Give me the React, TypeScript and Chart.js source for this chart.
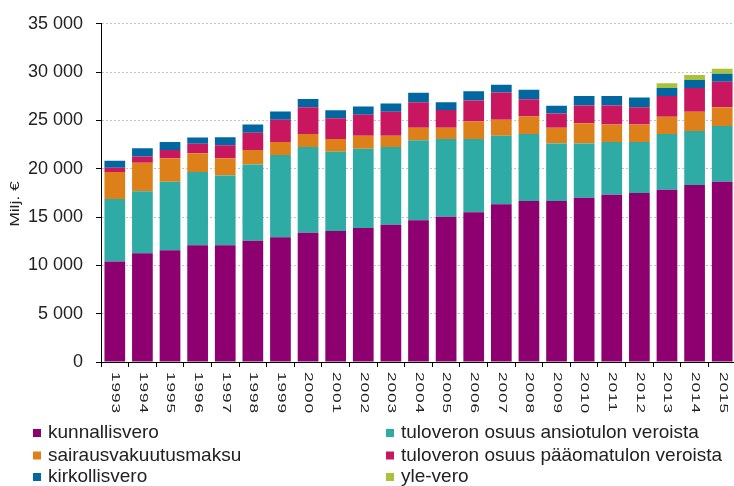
import React, { useEffect, useRef } from "react";
import { Chart, registerables } from "chart.js";

Chart.register(...registerables);

const years = [
  "1993", "1994", "1995", "1996", "1997", "1998", "1999", "2000", "2001", "2002", "2003", "2004",
  "2005", "2006", "2007", "2008", "2009", "2010", "2011", "2012", "2013", "2014", "2015",
];

const kunnallisvero = [
  10400, 11260, 11560, 12080, 12080, 12560, 12900, 13380, 13550, 13860, 14200, 14680,
  15030, 15500, 16330, 16670, 16670, 17010, 17320, 17490, 17830, 18310, 18660,
];
const ansiotulonVeroista = [
  6480, 6400, 7090, 7570, 7230, 7880, 8530, 8870, 8220, 8220, 8050, 8260,
  8050, 7570, 7090, 6920, 5930, 5590, 5450, 5280, 5760, 5590, 5760,
];
const sairausvakuutusmaksu = [
  2780, 2950, 2430, 1950, 1780, 1510, 1340, 1340, 1300, 1340, 1170, 1300,
  1170, 1820, 1650, 1820, 1640, 2120, 1820, 1820, 1780, 1990, 1950,
];
const paaomatulonVeroista = [
  440, 650, 860, 990, 1340, 1780, 2300, 2780, 2160, 2160, 2470, 2640,
  1820, 2160, 2810, 1780, 1470, 1820, 1950, 1780, 2160, 2470, 2640,
];
const kirkollisvero = [
  720, 860, 820, 650, 820, 860, 860, 860, 820, 860, 860, 990,
  820, 960, 820, 990, 820, 990, 990, 990, 820, 820, 820,
];
const yleVero = [
  0, 0, 0, 0, 0, 0, 0, 0, 0, 0, 0, 0,
  0, 0, 0, 0, 0, 0, 0, 0, 510, 510, 510,
];

const seriesNames = [
  "kunnallisvero",
  "tuloveron osuus ansiotulon veroista",
  "sairausvakuutusmaksu",
  "tuloveron osuus pääomatulon veroista",
  "kirkollisvero",
  "yle-vero",
];
const seriesValues = [
  kunnallisvero,
  ansiotulonVeroista,
  sairausvakuutusmaksu,
  paaomatulonVeroista,
  kirkollisvero,
  yleVero,
];
const seriesColors = ["#8E006F", "#2EABA4", "#DE8019", "#C8165F", "#0067A0", "#A8C23C"];

const yMax = 35000;
const yStep = 5000;
const yTitle = "Milj. €";

const FONT = "'Liberation Sans', Arial, sans-serif";

const customPlugin = {
  id: "customDraw",
  afterDraw(chart: any) {
    const ctx = chart.ctx as CanvasRenderingContext2D;
    const xScale = chart.scales.x;
    // x labels, rotated clockwise, stretched along text direction
    ctx.save();
    ctx.fillStyle = "#222";
    ctx.font = `11.5px ${FONT}`;
    (ctx as any).letterSpacing = "0.6px";
    ctx.textAlign = "left";
    ctx.textBaseline = "middle";
    years.forEach((label, i) => {
      const x = xScale.getPixelForValue(i);
      ctx.save();
      ctx.translate(x + 0.5, 372);
      ctx.rotate(Math.PI / 2);
      ctx.scale(1.5, 1);
      ctx.fillText(label, 0, 0);
      ctx.restore();
    });
    ctx.restore();

    // y title
    ctx.save();
    ctx.fillStyle = "#222";
    ctx.font = `12.5px ${FONT}`;
    ctx.textAlign = "center";
    ctx.textBaseline = "middle";
    ctx.translate(16, 204);
    ctx.rotate(-Math.PI / 2);
    ctx.scale(1.4, 1);
    ctx.fillText(yTitle, 0, 0);
    ctx.restore();

    // legend, two columns
    ctx.save();
    ctx.font = `19px ${FONT}`;
    ctx.textAlign = "left";
    ctx.textBaseline = "middle";
    const colX = [33, 386];
    const rowY = [433, 455.5, 477];
    seriesNames.forEach((name, i) => {
      const col = i % 2;
      const row = Math.floor(i / 2);
      const x = colX[col];
      const y = rowY[row];
      ctx.fillStyle = seriesColors[i];
      ctx.fillRect(x, y - 4, 8, 8);
      ctx.fillStyle = "#222";
      ctx.fillText(name, x + 15, y);
    });
    ctx.restore();
  },
};

export default function App() {
  const canvasRef = useRef<HTMLCanvasElement | null>(null);

  useEffect(() => {
    document.documentElement.style.overflow = "hidden";
    document.body.style.overflow = "hidden";
    const canvas = canvasRef.current;
    if (!canvas) return;
    const chart = new Chart(canvas, {
      type: "bar",
      data: {
        labels: years,
        datasets: seriesNames.map((name, i) => ({
          label: name,
          data: seriesValues[i],
          backgroundColor: seriesColors[i],
          borderWidth: 0,
          barPercentage: 0.75,
          categoryPercentage: 1,
        })),
      },
      options: {
        responsive: false,
        devicePixelRatio: 1,
        animation: false,
        layout: { padding: { top: 21, bottom: 119, left: 0, right: 0 } },
        plugins: {
          legend: { display: false },
          tooltip: { enabled: false },
          title: { display: false },
        },
        scales: {
          x: {
            stacked: true,
            grid: {
              display: true,
              drawOnChartArea: false,
              drawTicks: true,
              tickLength: 5,
              tickColor: "#000",
              offset: true,
            },
            border: { display: true, color: "#000", width: 1 },
            ticks: { display: false },
          },
          y: {
            stacked: true,
            min: 0,
            max: yMax,
            afterFit: (scale: any) => {
              scale.width = 101;
            },
            ticks: {
              stepSize: yStep,
              padding: 13,
              color: "#222",
              font: { size: 18, family: FONT },
              callback: (v: any) => {
                const n = Number(v);
                if (n === 0) return "0";
                return `${Math.floor(n / 1000)} 000`;
              },
            },
            grid: {
              color: (c: any) => (c.tick && c.tick.value === 0 ? "rgba(0,0,0,0)" : "#c4c4c4"),
              lineWidth: 1,
              tickColor: "#000",
              tickLength: 5,
              tickBorderDash: [],
            },
            border: { display: true, color: "#000", width: 1, dash: [2, 2] },
          },
        },
      },
      plugins: [customPlugin],
    });
    return () => chart.destroy();
  }, []);

  return (
    <div style={{ position: "fixed", left: 0, top: 0, width: 736, height: 486, background: "#fff" }}>
      <canvas ref={canvasRef} width={736} height={486} style={{ display: "block", width: 736, height: 486 }} />
    </div>
  );
}
